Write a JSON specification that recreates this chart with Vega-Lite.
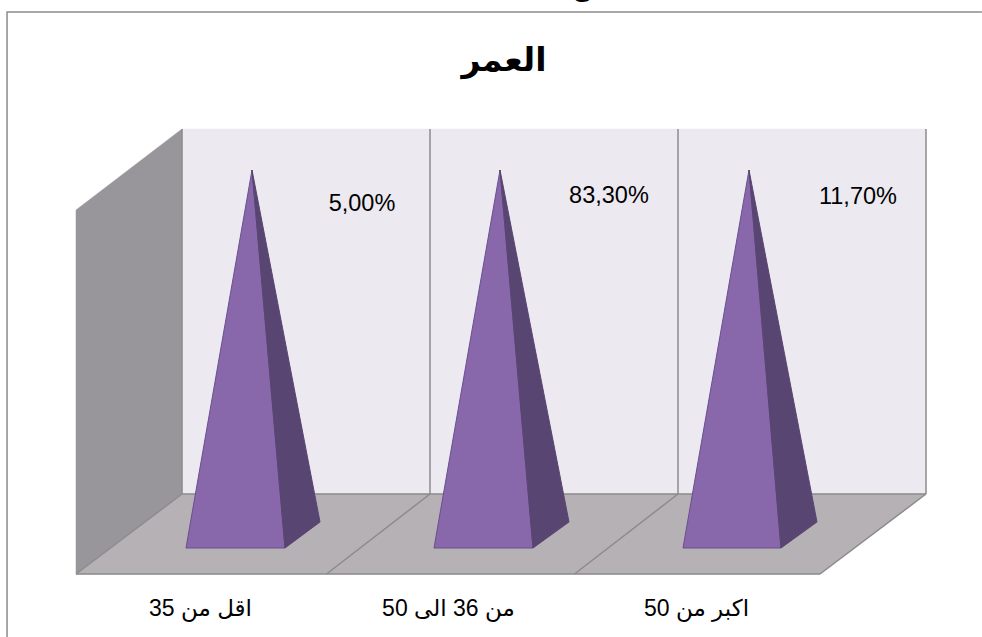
{
  "$schema": "https://vega.github.io/schema/vega-lite/v6.json",
  "width": 982,
  "height": 574,
  "padding": {"left": 0, "top": 0, "right": 0, "bottom": 63},
  "autosize": {"type": "none"},
  "background": "white",
  "config": {
    "view": {"stroke": null},
    "locale": {"number": {"decimal": ",", "thousands": " ", "grouping": [3], "currency": ["", ""]}}
  },
  "title": {
    "text": "العمر",
    "font": "Liberation Sans, DejaVu Sans",
    "fontSize": 33,
    "fontWeight": "bold",
    "color": "#000000",
    "anchor": "middle",
    "frame": "group",
    "offset": 0,
    "dx": 13,
    "dy": 101
  },
  "datasets": {
    "planes": [
      {"part": "back", "i": 0, "x": 0.4274, "y": 121.92},
      {"part": "back", "i": 1, "x": 3.4274, "y": 121.92},
      {"part": "back", "i": 2, "x": 3.4274, "y": 21.92},
      {"part": "back", "i": 3, "x": 0.4274, "y": 21.92},
      {"part": "back", "i": 4, "x": 0.4274, "y": 121.92},
      {"part": "side", "i": 0, "x": 0.4274, "y": 121.92},
      {"part": "side", "i": 1, "x": 0, "y": 99.73},
      {"part": "side", "i": 2, "x": 0, "y": 0},
      {"part": "side", "i": 3, "x": 0.4274, "y": 21.92},
      {"part": "side", "i": 4, "x": 0.4274, "y": 121.92},
      {"part": "floor", "i": 0, "x": 0, "y": 0},
      {"part": "floor", "i": 1, "x": 0.4274, "y": 21.92},
      {"part": "floor", "i": 2, "x": 3.4274, "y": 21.92},
      {"part": "floor", "i": 3, "x": 3, "y": 0},
      {"part": "floor", "i": 4, "x": 0, "y": 0}
    ],
    "edges": [
      {"edge": "wall0", "i": 0, "x": 0.4274, "y": 121.92},
      {"edge": "wall0", "i": 1, "x": 0.4274, "y": 21.92},
      {"edge": "wall1", "i": 0, "x": 1.4274, "y": 121.92},
      {"edge": "wall1", "i": 1, "x": 1.4274, "y": 21.92},
      {"edge": "wall2", "i": 0, "x": 2.4274, "y": 121.92},
      {"edge": "wall2", "i": 1, "x": 2.4274, "y": 21.92},
      {"edge": "wall3", "i": 0, "x": 3.4274, "y": 121.92},
      {"edge": "wall3", "i": 1, "x": 3.4274, "y": 21.92},
      {"edge": "diag0", "i": 0, "x": 0.4274, "y": 21.92},
      {"edge": "diag0", "i": 1, "x": 0, "y": 0},
      {"edge": "diag1", "i": 0, "x": 1.4274, "y": 21.92},
      {"edge": "diag1", "i": 1, "x": 1.01, "y": 0},
      {"edge": "diag2", "i": 0, "x": 2.4274, "y": 21.92},
      {"edge": "diag2", "i": 1, "x": 2.01, "y": 0},
      {"edge": "diag3", "i": 0, "x": 3.4274, "y": 21.92},
      {"edge": "diag3", "i": 1, "x": 3, "y": 0},
      {"edge": "rear", "i": 0, "x": 0.4274, "y": 21.92},
      {"edge": "rear", "i": 1, "x": 3.4274, "y": 21.92},
      {"edge": "front", "i": 0, "x": 0, "y": 0},
      {"edge": "front", "i": 1, "x": 3, "y": 0},
      {"edge": "frame", "i": 0, "x": -0.278, "y": -17.26},
      {"edge": "frame", "i": 1, "x": -0.278, "y": 153.97},
      {"edge": "frame", "i": 2, "x": 3.653, "y": 153.97}
    ],
    "pyramids": [
      {"category": "اقل من 35", "face": "front", "i": 0, "x": 0.4435, "y": 7.12},
      {"category": "اقل من 35", "face": "front", "i": 1, "x": 0.7097, "y": 110.68},
      {"category": "اقل من 35", "face": "front", "i": 2, "x": 0.8427, "y": 7.12},
      {"category": "اقل من 35", "face": "front", "i": 3, "x": 0.4435, "y": 7.12},
      {"category": "اقل من 35", "face": "right", "i": 0, "x": 0.8427, "y": 7.12},
      {"category": "اقل من 35", "face": "right", "i": 1, "x": 0.7097, "y": 110.68},
      {"category": "اقل من 35", "face": "right", "i": 2, "x": 0.9839, "y": 14.25},
      {"category": "اقل من 35", "face": "right", "i": 3, "x": 0.8427, "y": 7.12},
      {"category": "من 36 الى 50", "face": "front", "i": 0, "x": 1.4435, "y": 7.12},
      {"category": "من 36 الى 50", "face": "front", "i": 1, "x": 1.7097, "y": 110.68},
      {"category": "من 36 الى 50", "face": "front", "i": 2, "x": 1.8427, "y": 7.12},
      {"category": "من 36 الى 50", "face": "front", "i": 3, "x": 1.4435, "y": 7.12},
      {"category": "من 36 الى 50", "face": "right", "i": 0, "x": 1.8427, "y": 7.12},
      {"category": "من 36 الى 50", "face": "right", "i": 1, "x": 1.7097, "y": 110.68},
      {"category": "من 36 الى 50", "face": "right", "i": 2, "x": 1.9879, "y": 14.25},
      {"category": "من 36 الى 50", "face": "right", "i": 3, "x": 1.8427, "y": 7.12},
      {"category": "اكبر من 50", "face": "front", "i": 0, "x": 2.4476, "y": 7.12},
      {"category": "اكبر من 50", "face": "front", "i": 1, "x": 2.7137, "y": 110.68},
      {"category": "اكبر من 50", "face": "front", "i": 2, "x": 2.8427, "y": 7.12},
      {"category": "اكبر من 50", "face": "front", "i": 3, "x": 2.4476, "y": 7.12},
      {"category": "اكبر من 50", "face": "right", "i": 0, "x": 2.8427, "y": 7.12},
      {"category": "اكبر من 50", "face": "right", "i": 1, "x": 2.7137, "y": 110.68},
      {"category": "اكبر من 50", "face": "right", "i": 2, "x": 2.9879, "y": 14.25},
      {"category": "اكبر من 50", "face": "right", "i": 3, "x": 2.8427, "y": 7.12}
    ],
    "shares": [
      {"category": "اقل من 35", "share": 0.05, "x": 1.1532, "y": 101.37},
      {"category": "من 36 الى 50", "share": 0.833, "x": 2.149, "y": 103.56},
      {"category": "اكبر من 50", "share": 0.117, "x": 3.153, "y": 103.3}
    ],
    "heading": [
      {"text": "ين", "x": 2.0645, "y": 158.4}
    ]
  },
  "layer": [
    {
      "data": {"name": "planes"},
      "mark": {"type": "line", "strokeWidth": 0.5},
      "encoding": {
        "x": {
          "field": "x",
          "type": "quantitative",
          "scale": {"domain": [-0.30645, 3.65323], "nice": false, "zero": false},
          "axis": {
            "title": null,
            "values": [0.5, 1.5, 2.5],
            "domain": false,
            "ticks": false,
            "grid": false,
            "labelFont": "Liberation Sans, DejaVu Sans",
            "labelFontSize": 23,
            "labelColor": "#000000",
            "labelPadding": 23,
            "labelExpr": "datum.value == 0.5 ? 'اقل من 35' : datum.value == 1.5 ? 'من 36 الى 50' : 'اكبر من 50'"
          }
        },
        "y": {
          "field": "y",
          "type": "quantitative",
          "scale": {"domain": [0, 157.26], "nice": false, "zero": false},
          "axis": null
        },
        "order": {"field": "i", "type": "quantitative"},
        "detail": {"field": "part"},
        "fill": {
          "field": "part",
          "type": "nominal",
          "scale": {"domain": ["back", "side", "floor", "front", "right"], "range": ["#ECE9F1", "#98969A", "#B5B1B5", "#8868AB", "#594572"]},
          "legend": null
        },
        "stroke": {
          "field": "part",
          "type": "nominal",
          "scale": {"domain": ["back", "side", "floor", "front", "right"], "range": ["#ECE9F1", "#98969A", "#B5B1B5", "#6A4F8E", "#594572"]},
          "legend": null
        }
      }
    },
    {
      "data": {"name": "edges"},
      "mark": {"type": "line", "color": "#8C8C8C"},
      "encoding": {
        "x": {"field": "x", "type": "quantitative"},
        "y": {"field": "y", "type": "quantitative"},
        "order": {"field": "i", "type": "quantitative"},
        "detail": {"field": "edge"},
        "strokeWidth": {
          "field": "edge",
          "type": "nominal",
          "scale": {
            "domain": ["wall0", "wall1", "wall2", "wall3", "diag0", "diag1", "diag2", "diag3", "rear", "front", "frame"],
            "range": [1.5, 1.5, 1.5, 1.5, 1, 1, 1, 1.5, 1, 2.2, 1.5]
          },
          "legend": null
        }
      }
    },
    {
      "data": {"name": "pyramids"},
      "mark": {"type": "line", "strokeWidth": 1},
      "encoding": {
        "x": {"field": "x", "type": "quantitative"},
        "y": {"field": "y", "type": "quantitative"},
        "order": {"field": "i", "type": "quantitative"},
        "detail": [{"field": "category"}, {"field": "face"}],
        "fill": {"field": "face", "type": "nominal", "legend": null},
        "stroke": {"field": "face", "type": "nominal", "legend": null}
      }
    },
    {
      "data": {"name": "shares"},
      "mark": {
        "type": "text",
        "font": "Liberation Sans, DejaVu Sans",
        "fontSize": 23.5,
        "color": "#000000",
        "align": "center",
        "baseline": "middle"
      },
      "encoding": {
        "x": {"field": "x", "type": "quantitative"},
        "y": {"field": "y", "type": "quantitative"},
        "text": {"field": "share", "type": "quantitative", "format": ".2%"}
      }
    },
    {
      "data": {"name": "heading"},
      "mark": {
        "type": "text",
        "font": "Liberation Sans, DejaVu Sans",
        "fontSize": 24,
        "fontWeight": "bold",
        "color": "#000000",
        "align": "center",
        "baseline": "alphabetic"
      },
      "encoding": {
        "x": {"field": "x", "type": "quantitative"},
        "y": {"field": "y", "type": "quantitative"},
        "text": {"field": "text"}
      }
    }
  ]
}
